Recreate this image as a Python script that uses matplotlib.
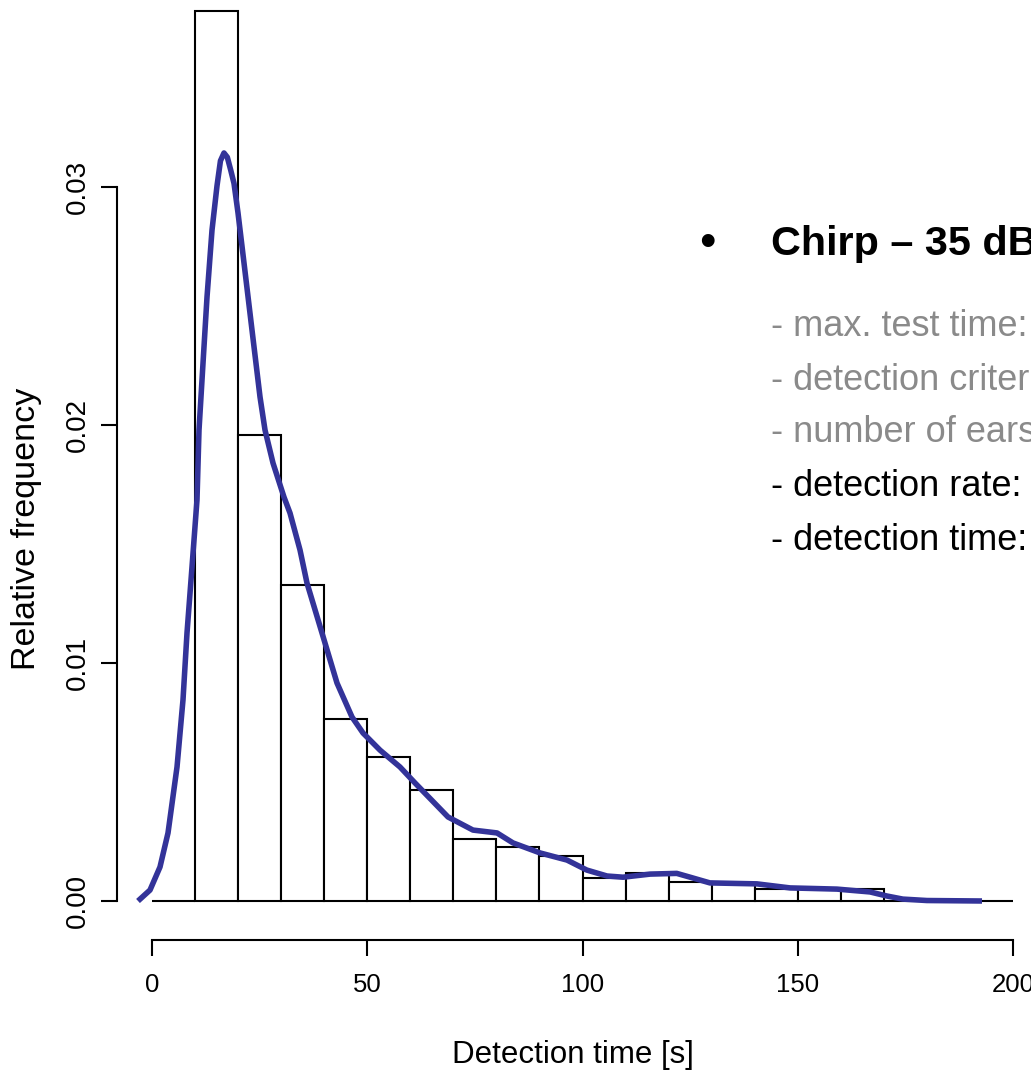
import numpy as np
import matplotlib
matplotlib.use('Agg')
import matplotlib.pyplot as plt

plt.rcParams['font.family'] = ['Liberation Sans', 'DejaVu Sans']

# histogram: bin edges and relative frequency per bin
bin_edges = np.arange(0, 210, 10)
bin_freq = [0.0, 0.0374, 0.01958, 0.01328, 0.00765, 0.00605, 0.00466, 0.0026,
            0.00227, 0.00189, 0.00095, 0.00118, 0.0008, 0.00075, 0.0005, 0.00052,
            0.0005, 0.0, 0.0, 0.0]

# density estimate
dens_x = [-3.25, -0.46, 1.86, 3.72, 5.81, 7.20, 8.13, 9.29, 10.45, 10.92, 11.85,
          12.78, 13.94, 15.10, 15.9, 16.72, 17.5, 18.3, 19.05, 19.98, 21.37, 23.23,
          25.09, 26.25, 28.11, 30.66, 32.06, 34.38, 36.0, 39.49, 42.97, 46.46,
          49.01, 52.96, 57.61, 61.09, 68.76, 74.56, 80.14, 83.86, 90.13, 96.40,
          101.0, 105.7, 109.4, 115.7, 121.9, 125.0, 129.6, 140.5, 148.2, 159.1,
          166.8, 170.7, 174.4, 180.0, 192.8]
dens_y = [0.0, 0.00046, 0.00143, 0.00286, 0.00563, 0.00845, 0.01126, 0.01403,
          0.01685, 0.01979, 0.0226, 0.02538, 0.02819, 0.03005, 0.0311, 0.03143,
          0.03125, 0.0307, 0.03015, 0.02891, 0.02681, 0.02399, 0.02118, 0.01979,
          0.0184, 0.01697, 0.0163, 0.01475, 0.01336, 0.01126, 0.00916, 0.00773,
          0.00706, 0.00634, 0.00563, 0.00496, 0.00353, 0.00298, 0.00286, 0.00244,
          0.00202, 0.00172, 0.0013, 0.00105, 0.001, 0.00113, 0.00116, 0.001,
          0.00076, 0.00072, 0.00055, 0.0005, 0.00038, 0.00021, 0.00008, 0.00002,
          0.0]

x_ticks = [0, 50, 100, 150, 200]
y_ticks = [0.00, 0.01, 0.02, 0.03]

info_gray = ['- max. test time:', '- detection criterion:', '- number of ears:']
info_black = ['- detection rate:', '- detection time:']

W, H = 1031, 1075
fig = plt.figure(figsize=(W / 100, H / 100), dpi=100)
ax = fig.add_axes([117 / W, 1 - 940 / H, (W - 117) / W, 940 / H])

ax.bar(bin_edges[:-1], bin_freq, width=10, align='edge', facecolor='white',
       edgecolor='black', linewidth=1.5)
ax.plot(dens_x, dens_y, color='#333399', linewidth=4, solid_capstyle='butt',
        solid_joinstyle='round')

ax.set_xlim(-35 / 4.305, (W - 152) / 4.305)
ax.set_ylim(-39 / 23800, 901 / 23800)

for s in ['top', 'right']:
    ax.spines[s].set_visible(False)
ax.spines['left'].set_bounds(0, 0.03)
ax.spines['bottom'].set_bounds(0, 200)
ax.spines['left'].set_linewidth(1.5)
ax.spines['bottom'].set_linewidth(1.5)

ax.set_xticks(x_ticks)
ax.set_xticklabels([str(t) for t in x_ticks])
ax.set_yticks(y_ticks)
ax.set_yticklabels(['%.2f' % t for t in y_ticks], rotation=90, va='center')
ax.tick_params(axis='both', length=11.5, width=1.5)
ax.tick_params(axis='x', labelsize=18.5, pad=12)
ax.tick_params(axis='y', labelsize=20, pad=7)

ax.set_xlabel('Detection time [s]', fontsize=22.5, va='center')
ax.xaxis.set_label_coords(0.4989, (940 - 1055) / 940)
ax.set_ylabel('Relative frequency', fontsize=24.5, va='center')
ax.yaxis.set_label_coords((27 - 117) / 914, (940 - 529) / 940)

# annotation block (runs off the right edge, as in the original slide)
fig.text(707 / W, 1 - 244 / H, '\u2022', fontsize=34, ha='center', va='center')
fig.text(771 / W, 1 - 244 / H, 'Chirp \u2013 35 dB', fontsize=29.8, fontweight='bold',
         va='center')
rows_y = [327, 380, 432, 487, 540]
for i, txt in enumerate(info_gray + info_black):
    col = '#8a8a8a' if i < len(info_gray) else 'black'
    fig.text(771 / W, 1 - rows_y[i] / H, txt, fontsize=26, color=col, va='center')

fig.savefig('out.png', dpi=100)
